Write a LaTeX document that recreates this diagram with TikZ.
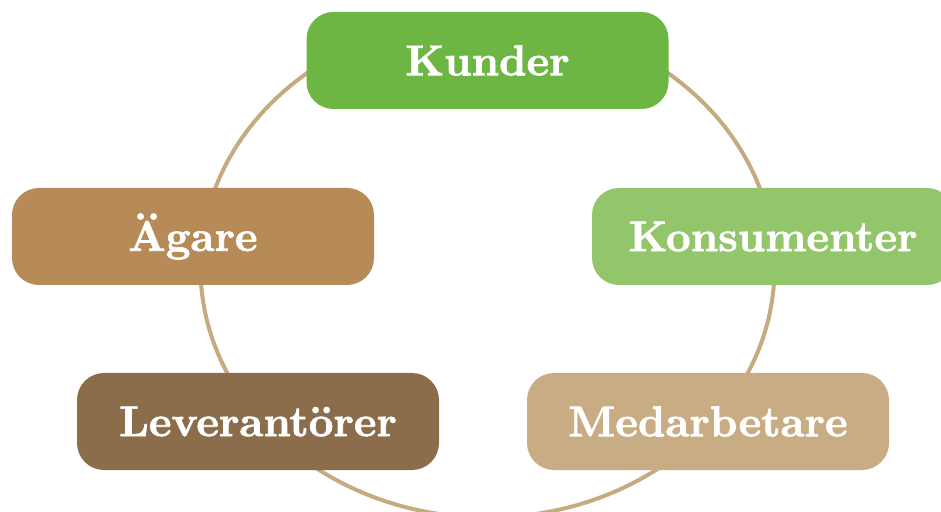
\documentclass[tikz,border=0pt]{standalone}
\usepackage{fontspec}
\usepackage{tikz}
\newfontfamily\rollfont{lmroman10-bold}[Extension=.otf, FakeBold=1.6]
\definecolor{kundgreen}{HTML}{6DB643}
\definecolor{konsgreen}{HTML}{93C66A}
\definecolor{agarbrown}{HTML}{B78B58}
\definecolor{levbrown}{HTML}{8B6D4B}
\definecolor{medtan}{HTML}{C8AD84}
\definecolor{ringtan}{HTML}{C6AB80}

\begin{document}
\begin{tikzpicture}[x=1pt,y=1pt]
\tikzstyle{rollbox} = [rectangle, rounded corners=27pt, minimum width=362pt, minimum height=97pt, inner sep=0pt, text=white, font=\fontsize{43}{50}\rollfont]
\clip (0,0) rectangle (941,511);
% ring behind the boxes
\draw[ringtan, line width=4pt] (487.5,243.5) ellipse [x radius=287pt, y radius=250pt];
\node[rollbox, fill=kundgreen] (kunder) at (487.5,450.5) {Kunder};
\node[rollbox, fill=agarbrown] (agare) at (193,274.5) {Ägare};
\node[rollbox, fill=konsgreen] (konsumenter) at (773,274.5) {Konsumenter};
\node[rollbox, fill=levbrown] (leverantorer) at (258,89.5) {Leverantörer};
\node[rollbox, fill=medtan] (medarbetare) at (708,89.5) {Medarbetare};
\end{tikzpicture}
\end{document}
